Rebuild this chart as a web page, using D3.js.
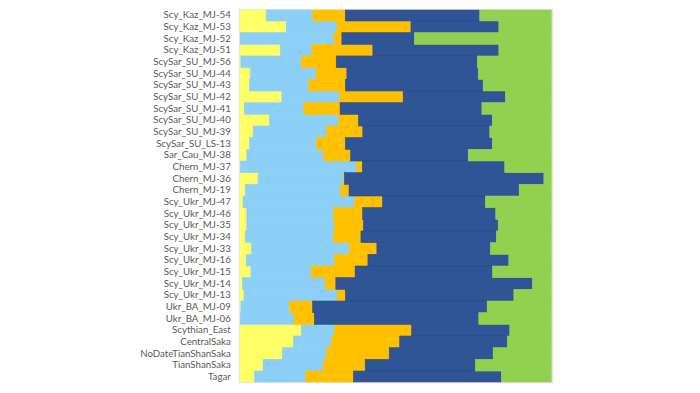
<!DOCTYPE html>
<html>
<head>
<meta charset="utf-8">
<script src="https://cdn.jsdelivr.net/npm/d3@7"></script>
<style>
  html, body { margin: 0; padding: 0; background: #fff; }
  #chart { width: 700px; height: 393px; }
</style>
</head>
<body>
<div id="chart"></div>
<script>
// sample labels, top to bottom
const samples = ["Scy_Kaz_MJ-54", "Scy_Kaz_MJ-53", "Scy_Kaz_MJ-52", "Scy_Kaz_MJ-51",
  "ScySar_SU_MJ-56", "ScySar_SU_MJ-44", "ScySar_SU_MJ-43", "ScySar_SU_MJ-42",
  "ScySar_SU_MJ-41", "ScySar_SU_MJ-40", "ScySar_SU_MJ-39", "ScySar_SU_LS-13",
  "Sar_Cau_MJ-38", "Chern_MJ-37", "Chern_MJ-36", "Chern_MJ-19",
  "Scy_Ukr_MJ-47", "Scy_Ukr_MJ-46", "Scy_Ukr_MJ-35", "Scy_Ukr_MJ-34",
  "Scy_Ukr_MJ-33", "Scy_Ukr_MJ-16", "Scy_Ukr_MJ-15", "Scy_Ukr_MJ-14",
  "Scy_Ukr_MJ-13", "Ukr_BA_MJ-09", "Ukr_BA_MJ-06", "Scythian_East",
  "CentralSaka", "NoDateTianShanSaka", "TianShanSaka", "Tagar"];

// ancestry components (fractions, same order as samples)
const compYellow = [0.086, 0.150, 0.002, 0.131, 0.005, 0.035, 0.033, 0.136, 0.016, 0.096, 0.044, 0.033,
  0.024, 0.003, 0.060, 0.019, 0.012, 0.024, 0.024, 0.019, 0.039, 0.022, 0.037, 0.010,
  0.015, 0.005, 0.003, 0.198, 0.173, 0.138, 0.076, 0.049];
const compLightBlue = [0.149, 0.162, 0.301, 0.101, 0.194, 0.211, 0.189, 0.184, 0.190, 0.222, 0.234, 0.213,
  0.245, 0.372, 0.274, 0.305, 0.356, 0.278, 0.280, 0.283, 0.313, 0.282, 0.193, 0.265,
  0.298, 0.155, 0.172, 0.106, 0.122, 0.141, 0.194, 0.164];
const compOrange = [0.104, 0.237, 0.025, 0.195, 0.111, 0.098, 0.117, 0.204, 0.116, 0.063, 0.117, 0.093,
  0.087, 0.018, 0.002, 0.027, 0.090, 0.093, 0.093, 0.087, 0.088, 0.107, 0.140, 0.034,
  0.026, 0.074, 0.065, 0.247, 0.218, 0.200, 0.133, 0.152];
const compDarkBlue = [0.430, 0.281, 0.232, 0.403, 0.451, 0.420, 0.440, 0.327, 0.453, 0.428, 0.406, 0.470,
  0.376, 0.455, 0.638, 0.544, 0.329, 0.426, 0.431, 0.433, 0.363, 0.450, 0.439, 0.629,
  0.539, 0.557, 0.526, 0.314, 0.344, 0.332, 0.353, 0.473];
const compGreen = [0.231, 0.170, 0.440, 0.170, 0.239, 0.236, 0.220, 0.149, 0.224, 0.191, 0.199, 0.191,
  0.268, 0.151, 0.026, 0.105, 0.213, 0.180, 0.172, 0.178, 0.197, 0.138, 0.190, 0.063,
  0.122, 0.207, 0.234, 0.135, 0.143, 0.188, 0.245, 0.162];

const keys = ["yellow", "lightblue", "orange", "darkblue", "green"];
const colors = ["#ffff66", "#8ccff7", "#ffc000", "#2f5597", "#92d050"];
const strokes = ["#ffff66", "#8ccff7", "#ffc000", "#294b86", "#92d050"];

const table = samples.map((s, i) => ({
  sample: s,
  yellow: compYellow[i],
  lightblue: compLightBlue[i],
  orange: compOrange[i],
  darkblue: compDarkBlue[i],
  green: compGreen[i]
}));

// normalise each row to 1 so the bars fill the plot
table.forEach(d => {
  const t = d3.sum(keys, k => d[k]);
  keys.forEach(k => d[k] = d[k] / t);
});

const W = 700, H = 393;
const margin = { top: 9.3, right: 148, bottom: 10.3, left: 239.3 };
const width = W - margin.left - margin.right;
const height = H - margin.top - margin.bottom;

const svg = d3.select("#chart").append("svg")
  .attr("width", W)
  .attr("height", H);

const g = svg.append("g")
  .attr("transform", `translate(${margin.left},${margin.top})`);

const x = d3.scaleLinear().domain([0, 1]).range([0, width]);
const y = d3.scaleBand().domain(samples).range([0, height]).padding(0);

const stacked = d3.stack().keys(keys)(table);

stacked.forEach((layer, li) => {
  g.append("g")
    .selectAll("rect")
    .data(layer)
    .join("rect")
    .attr("x", d => x(d[0]))
    .attr("y", d => y(d.data.sample))
    .attr("width", d => Math.max(0, x(d[1]) - x(d[0])))
    .attr("height", y.bandwidth())
    .attr("fill", colors[li])
    .attr("stroke", strokes[li])
    .attr("stroke-width", 0.6);
});

// faint plot border
g.append("rect")
  .attr("x", 0).attr("y", 0)
  .attr("width", width).attr("height", height)
  .attr("fill", "none")
  .attr("stroke", "#e3e3e3")
  .attr("stroke-width", 0.8);

// category axis
const yAxis = g.append("g")
  .call(d3.axisLeft(y).tickSize(0).tickPadding(8.5));
yAxis.select(".domain").remove();
yAxis.selectAll("text")
  .attr("fill", "#595959")
  .style("font-family", "Lato, 'Open Sans', sans-serif")
  .style("font-size", "9.7px");
</script>
</body>
</html>
